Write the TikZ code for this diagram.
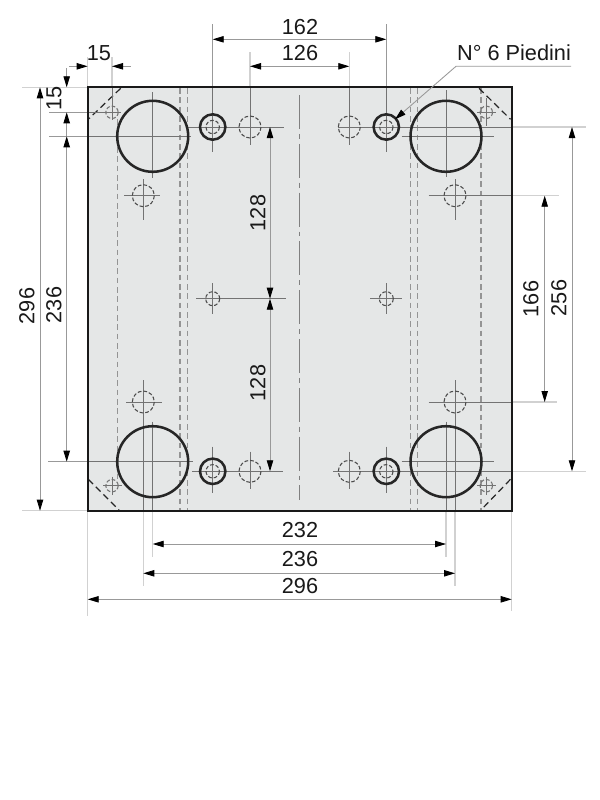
\documentclass[tikz,border=0pt]{standalone}
\usepackage{fontspec}
\setmainfont{Liberation Sans}
\usepackage{tikz}
\usetikzlibrary{arrows.meta}
\tikzstyle{outline}=[line width=1.9pt,black!85]
\tikzstyle{border}=[line width=1.6pt,black!90]
\tikzstyle{hidden}=[line width=0.85pt,dash pattern=on 4.2pt off 2.8pt,black!42]
\tikzstyle{holeline}=[line width=0.8pt,dash pattern=on 2.8pt off 1.5pt,black!70]
\tikzstyle{corner}=[line width=0.9pt,dash pattern=on 5pt off 3pt,black!85]
\tikzstyle{axis}=[line width=0.7pt,black!55]
\tikzstyle{ext}=[line width=0.8pt,black!18]
\tikzstyle{dim}=[line width=0.65pt,black!40]
\tikzstyle{lbl}=[font=\fontsize{16.3}{18}\selectfont,inner sep=0pt,black!90]
\definecolor{plategrey}{rgb}{0.90, 0.906, 0.906}
\begin{document}
\begin{tikzpicture}[x=0.75pt, y=-0.75pt, >={Triangle[length=8.25pt,width=4.8pt,black]}]
        \useasboundingbox (0,0) rectangle (600,800);
        % plate
        \fill[plategrey] (87.7,87.3) rectangle (511.7,510.7);
        % hidden lines
        \draw[hidden] (117.5,119) -- (117.5,479);
        \draw[hidden] (481,88) -- (481,510);
        \foreach \x in {180,187.5,410.7,417.7}
            \draw[hidden] (\x,88) -- (\x,510);
        \draw[line width=0.85pt,black!50,dash pattern=on 25.5pt off 3.7pt on 3.7pt off 3.7pt] (299.5,95) -- (299.5,500);
        \draw[corner] (120.7,88.3) -- (88.3,119.3);
        \draw[corner] (479,88.3) -- (510.5,119.3);
        \draw[corner] (88.3,479.3) -- (119,510);
        \draw[corner] (510.5,479.3) -- (481,510);
        % extension lines
        \draw[ext] (22,87.3) -- (87.7,87.3);
        \draw[ext] (22,510.7) -- (87.7,510.7);
        \draw[ext] (87.7,57) -- (87.7,87.3);
        \draw[ext] (87.7,510.7) -- (87.7,616);
        \draw[ext] (511.7,510.7) -- (511.7,611);
        \draw[ext] (511.7,127) -- (586,127);
        \draw[ext] (511.7,471.3) -- (586,471.3);
        \draw[ext] (511.7,195.7) -- (558.7,195.7);
        \draw[ext] (511.7,402) -- (557,402);
        \draw[ext] (152.7,510.7) -- (152.7,557);
        \draw[ext] (446,510.7) -- (446,557);
        \draw[ext] (143.3,510.7) -- (143.3,586);
        \draw[ext] (455,510.7) -- (455,586);
        \draw[dim] (212.7,24) -- (212.7,87.3);
        \draw[dim] (386.3,24) -- (386.3,87.3);
        \draw[ext] (250,52) -- (250,87.3);
        \draw[ext] (349.3,52) -- (349.3,87.3);
        \draw[ext] (112,57) -- (112,87.3);
        \draw[dim] (49,112.3) -- (87.7,112.3);
        \draw[dim] (49,136.3) -- (87.7,136.3);
        \draw[dim] (48,461.7) -- (87.7,461.7);
        % centre lines
        \draw[axis] (112,87.3) -- (112,120);
        \draw[axis] (87.7,112.3) -- (120.7,112.3);
        \draw[axis] (87.7,136.3) -- (191,136.3);
        \draw[axis] (87.7,461.7) -- (193,461.7);
        \draw[axis] (401.7,136.3) -- (493.7,136.3);
        \draw[axis] (401.7,461.7) -- (493.7,461.7);
        \draw[axis] (188,127) -- (284,127);
        \draw[axis] (192,471.3) -- (283,471.3);
        \draw[axis] (338,127) -- (511.7,127);
        \draw[axis] (333,471.3) -- (511.7,471.3);
        \draw[axis] (428.7,195.7) -- (511.7,195.7);
        \draw[axis] (428.7,402) -- (511.7,402);
        \draw[axis] (124,195.7) -- (160,195.7);
        \draw[axis] (126,402) -- (161.7,402);
        \draw[axis] (196,298.7) -- (285.7,298.7);
        \draw[axis] (370.3,298.7) -- (402.3,298.7);
        \draw[axis] (152.7,92) -- (152.7,178);
        \draw[axis] (446,90) -- (446,177);
        \draw[axis] (152.7,421.7) -- (152.7,510.7);
        \draw[axis] (446,421.7) -- (446,510.7);
        \draw[axis] (143.3,179) -- (143.3,220);
        \draw[axis] (455,179) -- (455,220);
        \draw[axis] (143.3,380) -- (143.3,510.7);
        \draw[axis] (455,380) -- (455,510.7);
        \draw[axis] (212.7,87.3) -- (212.7,152);
        \draw[axis] (386.3,87.3) -- (386.3,152);
        \draw[axis] (212.7,446.7) -- (212.7,493.3);
        \draw[axis] (386.3,446.7) -- (386.3,493.3);
        \draw[axis] (250,87.3) -- (250,145);
        \draw[axis] (349.3,87.3) -- (349.3,145);
        \draw[axis] (250,451.7) -- (250,489);
        \draw[axis] (349.3,451.7) -- (349.3,489);
        \draw[axis] (212.7,283) -- (212.7,314);
        \draw[axis] (386.3,283) -- (386.3,314);
        \draw[axis] (103,485.7) -- (121.7,485.7);
        \draw[axis] (112,476.7) -- (112,495);
        \draw[axis] (477,112.3) -- (495.7,112.3);
        \draw[axis] (486.3,98) -- (486.3,126);
        \draw[axis] (477,485.7) -- (495.7,485.7);
        \draw[axis] (486.3,476.7) -- (486.3,495);
        % holes
        \foreach \x in {152.7,446}
            \foreach \y in {136.3,461.7}
                \draw[outline] (\x,\y) circle (35.5);
        \foreach \x in {212.7,386.3}
            \foreach \y in {127,471.3} {
                \draw[outline] (\x,\y) circle (12.7);
                \draw[holeline] (\x,\y) circle (6.7);
            }
        \foreach \x in {250,349.3}
            \foreach \y in {127,471.3}
                \draw[holeline] (\x,\y) circle (11);
        \foreach \x in {143.3,455}
            \foreach \y in {195.7,402}
                \draw[holeline] (\x,\y) circle (11);
        \foreach \x in {112,486.3}
            \foreach \y in {112.3,485.7}
                \draw[holeline,black!55] (\x,\y) circle (6.2);
        \draw[holeline] (212.7,298.7) circle (7);
        \draw[holeline] (386.3,298.7) circle (7);
        % border
        \draw[border] (87.7,87.3) rectangle (511.7,510.7);
        % dimensions
        \draw[dim,<->] (212.7,39.3) -- (386.3,39.3);
        \draw[dim,<->] (250,66.3) -- (349.3,66.3);
        \draw[dim,->] (69,66.3) -- (87.7,66.3);
        \draw[dim,->] (130.7,66.3) -- (112,66.3);
        \draw[dim,->] (66.7,68) -- (66.7,87.3);
        \draw[dim,->] (66.7,136.3) -- (66.7,112.3);
        \draw[dim,<->] (66.7,136.3) -- (66.7,461.7);
        \draw[dim,<->] (40,87.3) -- (40,510.7);
        \draw[dim,<->] (572,127) -- (572,471.3);
        \draw[dim,<->] (544.7,195.7) -- (544.7,402);
        \draw[dim,<->] (270,127) -- (270,298.7);
        \draw[dim,<->] (270,298.7) -- (270,471.3);
        \draw[dim,<->] (152.7,544) -- (446,544);
        \draw[dim,<->] (143.3,573.3) -- (455,573.3);
        \draw[dim,<->] (87.7,599.3) -- (511.7,599.3);
        \draw[dim,->] (571,66.3) -- (456,66.3) -- (395,119.3);
        % labels
        \node[lbl] (top162) at (300,27) {162};
        \node[lbl] (top126) at (300,53) {126};
        \node[lbl] (top15) at (99,53) {15};
        \node[lbl] (feet) at (514,53) {N° 6 Piedini};
        \node[lbl,rotate=90] (left15) at (54,98) {15};
        \node[lbl,rotate=90] (left296) at (27,306) {296};
        \node[lbl,rotate=90] (left236) at (54,305) {236};
        \node[lbl,rotate=90] (mid128a) at (258,213) {128};
        \node[lbl,rotate=90] (mid128b) at (258,383) {128};
        \node[lbl,rotate=90] (right166) at (531,299) {166};
        \node[lbl,rotate=90] (right256) at (559,298) {256};
        \node[lbl] (bot232) at (300,530) {232};
        \node[lbl] (bot236) at (300,559) {236};
        \node[lbl] (bot296) at (300,586) {296};
    \end{tikzpicture}
\end{document}
